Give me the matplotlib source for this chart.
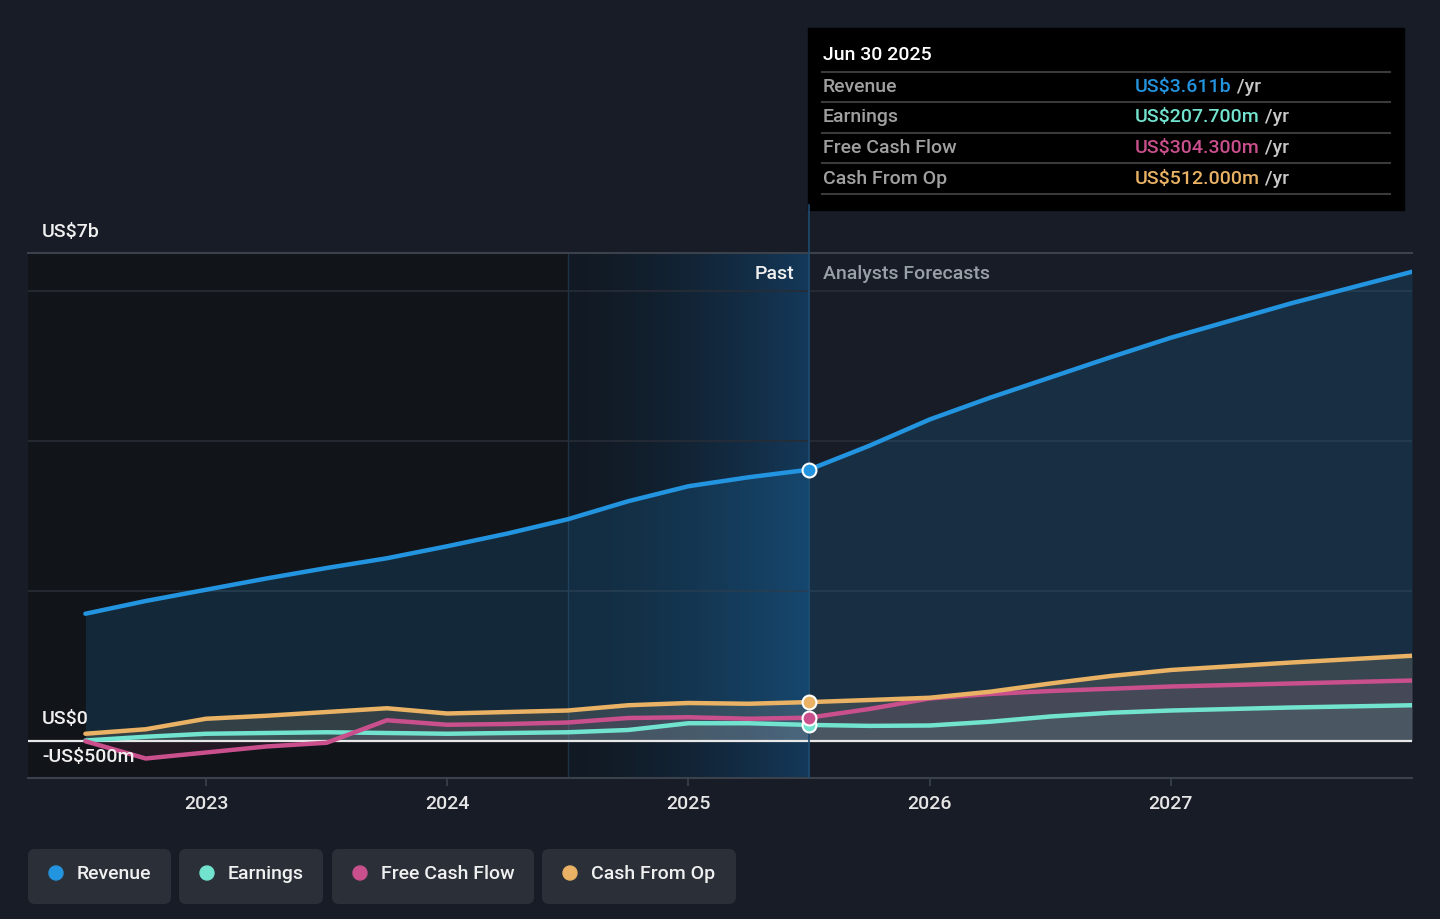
import matplotlib
matplotlib.use("Agg")
import matplotlib.pyplot as plt
import numpy as np
from matplotlib.patches import FancyBboxPatch, Rectangle, Circle

plt.rcParams["font.family"] = ["Roboto", "DejaVu Sans"]

# ---- data (US$ billions, fractional years) ----
dates = [2022.5, 2022.75, 2023.0, 2023.25, 2023.5, 2023.75, 2024.0, 2024.25,
         2024.5, 2024.75, 2025.0, 2025.25, 2025.5, 2025.75, 2026.0, 2026.25,
         2026.5, 2026.75, 2027.0, 2027.5, 2028.0]
revenue = [1.69, 1.86, 2.01, 2.16, 2.30, 2.43, 2.59, 2.76, 2.95, 3.19, 3.39,
           3.51, 3.611, 3.93, 4.28, 4.57, 4.84, 5.11, 5.37, 5.83, 6.25]
earnings = [0.0, 0.05, 0.09, 0.10, 0.11, 0.10, 0.09, 0.10, 0.11, 0.14, 0.23,
            0.23, 0.2077, 0.195, 0.20, 0.25, 0.32, 0.37, 0.40, 0.44, 0.47]
fcf = [-0.01, -0.24, -0.16, -0.08, -0.03, 0.27, 0.21, 0.22, 0.24, 0.30, 0.31,
       0.29, 0.3043, 0.42, 0.56, 0.62, 0.66, 0.69, 0.72, 0.76, 0.80]
cfo = [0.09, 0.15, 0.29, 0.33, 0.38, 0.43, 0.36, 0.38, 0.40, 0.47, 0.50,
       0.49, 0.512, 0.54, 0.57, 0.65, 0.76, 0.86, 0.94, 1.04, 1.13]

past_end = 2025.5
past_band_start = 2024.5
year_ticks = [2023, 2024, 2025, 2026, 2027]

series_names = ["Revenue", "Earnings", "Free Cash Flow", "Cash From Op"]
tooltip_values = ["US$3.611b", "US$207.700m", "US$304.300m", "US$512.000m"]

COLORS = {"Revenue": "#2394df", "Earnings": "#72e3cf",
          "Free Cash Flow": "#c9508c", "Cash From Op": "#e9b264"}
BG = "#171c26"
FS = 14

W, H = 1440, 919
fig = plt.figure(figsize=(W / 100, H / 100), dpi=100, facecolor=BG)

L, R, T, B = 28, 1412, 253, 778
ax = fig.add_axes([L / W, 1 - B / H, (R - L) / W, (B - T) / H])
ax.set_facecolor(BG)
xmin, xmax = 2022.262, 2028.0
ax.set_xlim(xmin, xmax)
ax.set_ylim(-0.5, 6.5)

# background zones
ax.axvspan(xmin, past_band_start, color="#111419", zorder=0, lw=0)
grad = np.linspace(0, 1, 256)[None, :] ** 1.6
cmap = matplotlib.colors.LinearSegmentedColormap.from_list(
    "past", ["#111a24", "#14395a"])
ax.imshow(grad, extent=[past_band_start, past_end, -0.5, 6.5], aspect="auto",
          cmap=cmap, zorder=0.5, interpolation="bicubic")
ax.axvline(past_band_start, color="#1d3347", lw=1, zorder=0.6)

# grid
for v in [2, 4, 6]:
    ax.axhline(v, color="#272d37", lw=1.2, zorder=1)
ax.axhline(6.5, color="#3c424c", lw=1.5, zorder=1, clip_on=False)

# fills
ax.fill_between(dates, revenue, 0, color=COLORS["Revenue"], alpha=0.16,
                lw=0, zorder=2)
for name, vals in [("Cash From Op", cfo), ("Free Cash Flow", fcf),
                   ("Earnings", earnings)]:
    ax.fill_between(dates, vals, 0, color=COLORS[name], alpha=0.10, lw=0,
                    zorder=2)
ax.fill_between(dates, cfo, 0, color="#9aa4ae", alpha=0.10, lw=0, zorder=2)

ax.axhline(0, color="#e8e8e8", lw=1.6, zorder=3)

# lines + markers at the last reported point
idx = dates.index(past_end)
for name, vals in [("Earnings", earnings), ("Free Cash Flow", fcf),
                   ("Cash From Op", cfo), ("Revenue", revenue)]:
    ax.plot(dates, vals, color=COLORS[name], lw=3.2, zorder=4,
            solid_capstyle="round", solid_joinstyle="round")
for name, vals in [("Earnings", earnings), ("Free Cash Flow", fcf),
                   ("Cash From Op", cfo), ("Revenue", revenue)]:
    ax.plot(past_end, vals[idx], "o", ms=10, color=COLORS[name],
            mec="white", mew=1.5, zorder=6)

ax.axvline(past_end, color="#1f4b70", lw=1.2, zorder=3.5)

# axes
for s in ["top", "left", "right"]:
    ax.spines[s].set_visible(False)
ax.spines["bottom"].set_color("#3c424c")
ax.spines["bottom"].set_linewidth(1.5)
ax.set_yticks([])
ax.set_xticks(year_ticks)
ax.set_xticklabels([str(y) for y in year_ticks])
ax.tick_params(axis="x", colors="#3c424c", length=6, width=1.2, pad=6,
               labelcolor="#e6e6e6", labelsize=FS)
for lab in ax.get_xticklabels():
    lab.set_fontweight("medium")

# y labels
for v, lab in [(6.5, "US$7b"), (0, "US$0"), (-0.5, "-US$500m")]:
    ax.annotate(lab, xy=(0, v), xycoords=ax.get_yaxis_transform(),
                xytext=(14, 21), textcoords="offset pixels", ha="left",
                va="center", color="#f0f0f0", fontsize=FS, zorder=7,
                fontweight="medium", annotation_clip=False)

ax.annotate("Past", xy=(past_end, 6.5), xytext=(-15, -21),
            textcoords="offset pixels", ha="right", va="center",
            color="#f0f0f0", fontsize=FS, fontweight="medium",
            annotation_clip=False)
ax.annotate("Analysts Forecasts", xy=(past_end, 6.5), xytext=(14, -21),
            textcoords="offset pixels", ha="left", va="center",
            color="#9aa0a8", fontsize=FS, fontweight="medium",
            annotation_clip=False)

# ---- overlay in pixel space: tooltip + legend ----
ov = fig.add_axes([0, 0, 1, 1], zorder=5)
ov.set_xlim(0, W)
ov.set_ylim(H, 0)
ov.axis("off")
ov.patch.set_alpha(0)

x_past = L + (past_end - xmin) / (xmax - xmin) * (R - L)
ov.plot([x_past, x_past], [205, T], color="#1f4b70", lw=1.2)
ov.add_patch(Rectangle((808, 28), 596, 182, color="black", zorder=1))
ov.text(823, 55, "Jun 30 2025", color="white", fontsize=FS,
        fontweight="medium", va="center", zorder=2)
for yy in [72, 102, 133, 163, 194]:
    ov.plot([822, 1390], [yy, yy], color="#3a3a3a", lw=1.5, zorder=2)
for i, (name, val) in enumerate(zip(series_names, tooltip_values)):
    yy = 87 + i * 30.5
    ov.text(823, yy, name, color="#a0a0a0", fontsize=FS, va="center",
            fontweight="medium", zorder=2)
    t = ov.text(1135, yy, val, color=COLORS[name], fontsize=FS, va="center",
                fontweight="medium", zorder=2)
    ov.annotate(" /yr", xy=(1, 0.5), xycoords=t, va="center", ha="left",
                color="#c8c8c8", fontsize=FS, fontweight="medium", zorder=2)

pills = [(28, 143), (179, 144), (332, 202), (542, 194)]
for (px, pw), name in zip(pills, series_names):
    ov.add_patch(FancyBboxPatch((px, 849), pw, 55,
                                boxstyle="round,pad=0,rounding_size=7",
                                fc="#2a2f38", ec="none"))
    ov.add_patch(Circle((px + 28, 873), 7, color=COLORS[name]))
    ov.text(px + 49, 874, name, color="#f0f0f0", fontsize=FS, va="center",
            fontweight="medium")

fig.savefig("out.png", dpi=100, facecolor=BG)
